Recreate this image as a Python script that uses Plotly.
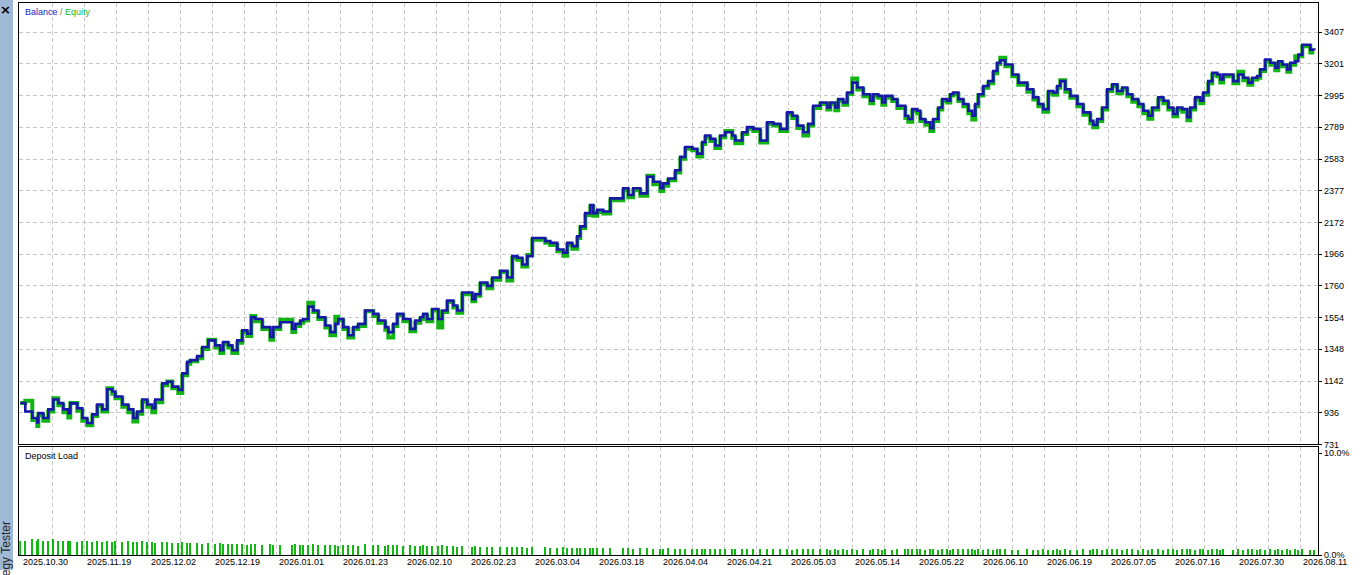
import plotly.graph_objects as go

# deal number along the tester's horizontal scale
deals = [
    0, 5, 12, 17, 18, 23, 28, 33, 38, 43,
    48, 50, 57, 62, 67, 72, 77, 82, 87, 92,
    95, 102, 108, 113, 117, 122, 127, 132, 135, 142,
    147, 152, 158, 162, 167, 170, 177, 182, 188, 195,
    200, 203, 208, 212, 217, 222, 227, 231, 235, 242,
    250, 253, 260, 272, 275, 280, 283, 288, 293, 298,
    305, 310, 315, 318, 323, 328, 333, 338, 345, 353,
    358, 365, 368, 373, 377, 383, 390, 395, 400, 403,
    407, 412, 418, 422, 427, 433, 437, 442, 452, 455,
    460, 467, 472, 480, 487, 492, 497, 502, 507, 512,
    525, 530, 537, 543, 547, 552, 557, 560, 565, 570,
    573, 577, 583, 590, 603, 608, 613, 620, 627, 633,
    640, 643, 648, 655, 660, 665, 672, 677, 682, 685,
    690, 695, 700, 705, 712, 715, 722, 727, 733, 740,
    747, 753, 760, 767, 772, 777, 783, 788, 793, 800,
    807, 810, 815, 818, 823, 827, 832, 837, 843, 850,
    853, 858, 862, 865, 872, 877, 885, 888, 892, 897,
    900, 905, 910, 913, 918, 922, 927, 930, 933, 938,
    943, 948, 952, 955, 958, 963, 968, 973, 977, 980,
    985, 992, 998, 1007, 1013, 1018, 1023, 1028, 1033, 1037,
    1040, 1045, 1050, 1057, 1063, 1070, 1073, 1077, 1082, 1087,
    1092, 1097, 1102, 1107, 1112, 1118, 1123, 1128, 1132, 1138,
    1143, 1148, 1153, 1157, 1162, 1167, 1170, 1175, 1180, 1183,
    1188, 1192, 1197, 1200, 1203, 1213, 1218, 1223, 1228, 1232,
    1237, 1240, 1245, 1250, 1255, 1258, 1262, 1267, 1270, 1275,
    1278, 1282, 1290, 1294,
]

balance = [
    1000, 945, 902, 874, 934, 902, 958, 1022, 999, 958,
    934, 997, 966, 902, 870, 926, 990, 958, 1089, 1074,
    1042, 990, 958, 902, 945, 1022, 990, 966, 1022, 1127,
    1138, 1106, 1085, 1192, 1267, 1278, 1304, 1363, 1406, 1374,
    1342, 1396, 1374, 1342, 1406, 1471, 1449, 1556, 1545, 1492,
    1428, 1492, 1524, 1481, 1513, 1535, 1545, 1625, 1600, 1556,
    1503, 1460, 1513, 1545, 1492, 1439, 1492, 1513, 1600, 1578,
    1535, 1492, 1460, 1513, 1578, 1545, 1481, 1535, 1556, 1578,
    1545, 1610, 1545, 1600, 1664, 1632, 1600, 1717, 1674, 1706,
    1782, 1760, 1814, 1857, 1814, 1953, 1942, 1899, 1953, 2071,
    2050, 2039, 1996, 1975, 2039, 2018, 2082, 2146, 2232, 2285,
    2232, 2253, 2243, 2328, 2393, 2350, 2393, 2360, 2468, 2436,
    2393, 2425, 2457, 2510, 2597, 2661, 2650, 2618, 2693, 2736,
    2714, 2671, 2736, 2757, 2736, 2703, 2757, 2790, 2779, 2703,
    2822, 2811, 2779, 2886, 2864, 2800, 2757, 2811, 2929, 2950,
    2918, 2950, 2918, 2972, 2950, 3015, 3079, 3047, 3004, 2961,
    3004, 2993, 2950, 2993, 2972, 2929, 2864, 2843, 2907, 2896,
    2843, 2822, 2783, 2843, 2918, 2972, 2961, 3004, 3015, 2972,
    2940, 2896, 2864, 2940, 3004, 3057, 3089, 3154, 3208, 3224,
    3197, 3132, 3079, 3036, 2983, 2940, 2907, 3025, 3015, 3057,
    3089, 3036, 2993, 2940, 2886, 2832, 2804, 2843, 2918, 3036,
    3068, 3025, 3047, 3004, 2972, 2940, 2896, 2864, 2918, 2983,
    2961, 2918, 2875, 2918, 2907, 2854, 2918, 2983, 2961, 3015,
    3089, 3143, 3132, 3100, 3132, 3089, 3132, 3111, 3079, 3111,
    3122, 3165, 3229, 3208, 3176, 3218, 3197, 3165, 3208, 3218,
    3261, 3325, 3293, 3289,
]

equity = [
    1000, 1015, 890, 850, 920, 885, 945, 1030, 985, 940,
    905, 1000, 950, 885, 855, 915, 980, 945, 1095, 1060,
    1030, 975, 940, 880, 930, 1010, 975, 940, 1005, 1115,
    1140, 1095, 1065, 1180, 1255, 1270, 1290, 1350, 1410, 1360,
    1325, 1385, 1360, 1325, 1390, 1460, 1435, 1565, 1530, 1480,
    1410, 1480, 1540, 1460, 1500, 1520, 1535, 1650, 1590, 1545,
    1490, 1440, 1560, 1535, 1480, 1425, 1480, 1500, 1595, 1565,
    1520, 1475, 1425, 1500, 1570, 1530, 1465, 1520, 1545, 1565,
    1530, 1600, 1490, 1590, 1655, 1620, 1585, 1705, 1660, 1695,
    1770, 1745, 1800, 1850, 1795, 1940, 1930, 1885, 1960, 2060,
    2040, 2025, 1985, 1955, 2025, 2000, 2070, 2135, 2220, 2275,
    2215, 2240, 2230, 2315, 2380, 2335, 2380, 2345, 2475, 2420,
    2375, 2410, 2445, 2495, 2585, 2650, 2640, 2600, 2680, 2725,
    2700, 2655, 2725, 2765, 2720, 2685, 2745, 2780, 2765, 2690,
    2810, 2800, 2765, 2875, 2850, 2785, 2735, 2800, 2915, 2940,
    2905, 2940, 2900, 2960, 2935, 3005, 3105, 3035, 2990, 2945,
    2990, 2980, 2935, 2980, 2960, 2915, 2850, 2825, 2895, 2880,
    2830, 2805, 2765, 2830, 2905, 2960, 2950, 2995, 3005, 2960,
    2925, 2880, 2840, 2925, 2995, 3045, 3075, 3140, 3200, 3240,
    3185, 3120, 3065, 3020, 2970, 2925, 2890, 3010, 3000, 3045,
    3095, 3020, 2980, 2925, 2870, 2815, 2790, 2830, 2905, 3025,
    3055, 3010, 3035, 2990, 2955, 2925, 2880, 2845, 2905, 2970,
    2945, 2905, 2860, 2905, 2890, 2835, 2905, 2970, 2945, 3000,
    3075, 3130, 3120, 3080, 3120, 3075, 3150, 3095, 3065, 3100,
    3110, 3155, 3220, 3195, 3160, 3205, 3185, 3150, 3195, 3250,
    3250, 3315, 3275, 3275,
]

# deposit load, percent
deposit_load = [
    1.4, 1.4, 1.5, 1.4, 1.5, 1.4, 1.4, 1.5, 1.4, 1.4,
    1.4, 1.4, 1.3, 1.4, 1.4, 1.3, 1.4, 1.3, 1.4, 1.3,
    1.4, 1.3, 1.4, 1.3, 1.3, 1.4, 1.3, 1.3, 1.2, 1.3,
    1.3, 1.2, 1.2, 1.3, 1.2, 1.2, 1.2, 1.1, 1.2, 1.1,
    1.2, 1.1, 1.1, 1.1, 1.1, 1.1, 1.0, 1.1, 1.1, 1.0,
    1.1, 1.0, 1.0, 1.0, 1.1, 1.0, 1.0, 1.0, 1.1, 1.0,
    1.0, 1.0, 1.0, 0.9, 1.0, 1.0, 1.0, 0.9, 1.1, 1.0,
    1.0, 0.9, 1.0, 1.0, 1.0, 0.9, 1.0, 0.9, 0.9, 1.0,
    0.9, 0.9, 0.9, 1.0, 0.9, 0.9, 0.8, 0.9, 0.8, 0.9,
    0.8, 0.8, 0.8, 0.8, 0.8, 0.8, 0.8, 0.8, 0.7, 0.8,
    0.8, 0.7, 0.7, 0.8, 0.7, 0.7, 0.7, 0.7, 0.7, 0.7,
    0.7, 0.7, 0.7, 0.7, 0.7, 0.7, 0.6, 0.7, 0.7, 0.6,
    0.6, 0.6, 0.7, 0.6, 0.6, 0.6, 0.6, 0.6, 0.6, 0.6,
    0.6, 0.6, 0.6, 0.6, 0.6, 0.6, 0.6, 0.6, 0.6, 0.6,
    0.6, 0.6, 0.6, 0.6, 0.5, 0.6, 0.6, 0.6, 0.6, 0.6,
    0.6, 0.5, 0.6, 0.5, 0.6, 0.5, 0.6, 0.5, 0.6, 0.5,
    0.6, 0.6, 0.5, 0.6, 0.5, 0.6, 0.6, 0.6, 0.6, 0.6,
    0.6, 0.5, 0.6, 0.6, 0.5, 0.6, 0.6, 0.5, 0.6, 0.6,
    0.6, 0.6, 0.6, 0.5, 0.6, 0.5, 0.6, 0.5, 0.6, 0.6,
    0.6, 0.5, 0.5, 0.6, 0.5, 0.5, 0.6, 0.5, 0.5, 0.6,
    0.5, 0.6, 0.5, 0.5, 0.6, 0.5, 0.6, 0.6, 0.5, 0.6,
    0.6, 0.6, 0.5, 0.6, 0.6, 0.5, 0.6, 0.5, 0.6, 0.6,
    0.5, 0.6, 0.6, 0.5, 0.6, 0.6, 0.6, 0.5, 0.6, 0.6,
    0.5, 0.6, 0.6, 0.5, 0.6, 0.5, 0.6, 0.5, 0.6, 0.6,
    0.5, 0.6, 0.5, 0.6, 0.5, 0.6, 0.5, 0.6, 0.5, 0.6,
    0.5, 0.6, 0.5, 0.5,
]

date_labels = [
    "2025.10.30", "2025.11.19", "2025.12.02", "2025.12.19", "2026.01.01",
    "2026.01.23", "2026.02.10", "2026.02.23", "2026.03.04", "2026.03.18",
    "2026.04.04", "2026.04.21", "2026.05.03", "2026.05.14", "2026.05.22",
    "2026.06.10", "2026.06.19", "2026.07.05", "2026.07.16", "2026.07.30",
    "2026.08.11",
]
date_step = 64  # deals between two date labels

price_ticks = [731, 936, 1142, 1348, 1554, 1760, 1966, 2172,
               2377, 2583, 2789, 2995, 3201, 3407]
load_ticks = [0, 10]
load_tick_text = ["0.0%", "10.0%"]

W, H = 1362, 575
FONT = "Liberation Sans"
GRID = "#c8c8c8"


def fx(px):
    return px / W


def fy(px):
    return 1 - px / H


fig = go.Figure()

fig.add_trace(go.Scatter(
    x=deals, y=equity, mode="lines", hoverinfo="skip",
    line=dict(color="#14b414", width=4, shape="hv"),
    xaxis="x", yaxis="y",
))
fig.add_trace(go.Scatter(
    x=deals, y=balance, mode="lines", hoverinfo="skip",
    line=dict(color="#1818a8", width=2.6, shape="hv"),
    xaxis="x", yaxis="y",
))
fig.add_trace(go.Bar(
    x=deals, y=deposit_load, width=2, hoverinfo="skip",
    marker=dict(color="#12b812", line_width=0),
    xaxis="x2", yaxis="y2",
))

x_common = dict(
    range=[-1, 1298], tick0=0, dtick=date_step / 2,
    showticklabels=False, ticks="",
    showgrid=True, gridcolor=GRID, griddash="4px,3px", gridwidth=1,
    showline=True, linecolor="black", linewidth=1, mirror=True,
    zeroline=False, fixedrange=True,
)

fig.update_layout(
    width=W, height=H, autosize=False,
    margin=dict(l=0, r=0, t=0, b=0),
    paper_bgcolor="white", plot_bgcolor="white",
    showlegend=False, bargap=0,
    font=dict(family=FONT, size=9, color="black"),
    xaxis=dict(domain=[fx(19.3), fx(1318.3)], anchor="y", **x_common),
    xaxis2=dict(domain=[fx(19.3), fx(1318.3)], anchor="y2", **x_common),
    yaxis=dict(
        domain=[fy(448.3), fy(3.3)], anchor="x", side="right",
        range=[731, 3594], tickvals=price_ticks,
        ticktext=[str(v) for v in price_ticks],
        ticks="outside", ticklen=3, tickcolor="black",
        showgrid=True, gridcolor=GRID, griddash="4px,3px",
        showline=True, linecolor="black", linewidth=1, mirror=True,
        zeroline=False, fixedrange=True,
        tickfont=dict(family=FONT, size=9, color="black"),
    ),
    yaxis2=dict(
        domain=[fy(560), fy(451.3)], anchor="x2", side="right",
        range=[0, 10.584], tickvals=load_ticks, ticktext=load_tick_text,
        ticks="outside", ticklen=3, tickcolor="black",
        showgrid=False,
        showline=True, linecolor="black", linewidth=1, mirror=True,
        zeroline=False, fixedrange=True,
        tickfont=dict(family=FONT, size=9, color="black"),
    ),
)

# left dock strip of the terminal window
fig.add_shape(type="rect", xref="paper", yref="paper",
              x0=0, x1=fx(13), y0=0, y1=1,
              fillcolor="#9fb9d7", line_width=0, layer="below")

annotations = [
    dict(text="<b>×</b>", x=fx(5), y=fy(9.5), xanchor="center", yanchor="middle",
         font=dict(family="DejaVu Sans", size=13, color="black")),
    dict(text="Strategy Tester", x=fx(6.5), y=fy(567), textangle=-90,
         xanchor="center", yanchor="middle",
         font=dict(family=FONT, size=12, color="#2a2a2a")),
    dict(text='<span style="color:#2222c8">Balance</span>'
              '<span style="color:#8a7a40"> / </span>'
              '<span style="color:#18b818">Equity</span>',
         x=fx(23), y=fy(12), xanchor="left", yanchor="middle",
         font=dict(family=FONT, size=9)),
    dict(text="Deposit Load", x=fx(23), y=fy(460), xanchor="left", yanchor="middle",
         font=dict(family=FONT, size=9, color="black")),
]
for a in annotations:
    a.update(xref="paper", yref="paper", showarrow=False)

for i, label in enumerate(date_labels):
    annotations.append(dict(
        text=label, x=i * date_step, xref="x2", y=fy(567), yref="paper",
        xanchor="left", yanchor="middle", xshift=1, showarrow=False,
        font=dict(family=FONT, size=9, color="black"),
    ))

fig.update_layout(annotations=annotations)

# the page's default body margin would push the figure 8px off the window corner
fig.write_html(
    "out.html",
    config={"displayModeBar": False},
    post_script="document.body.style.margin='0';document.body.style.overflow='hidden';",
)
